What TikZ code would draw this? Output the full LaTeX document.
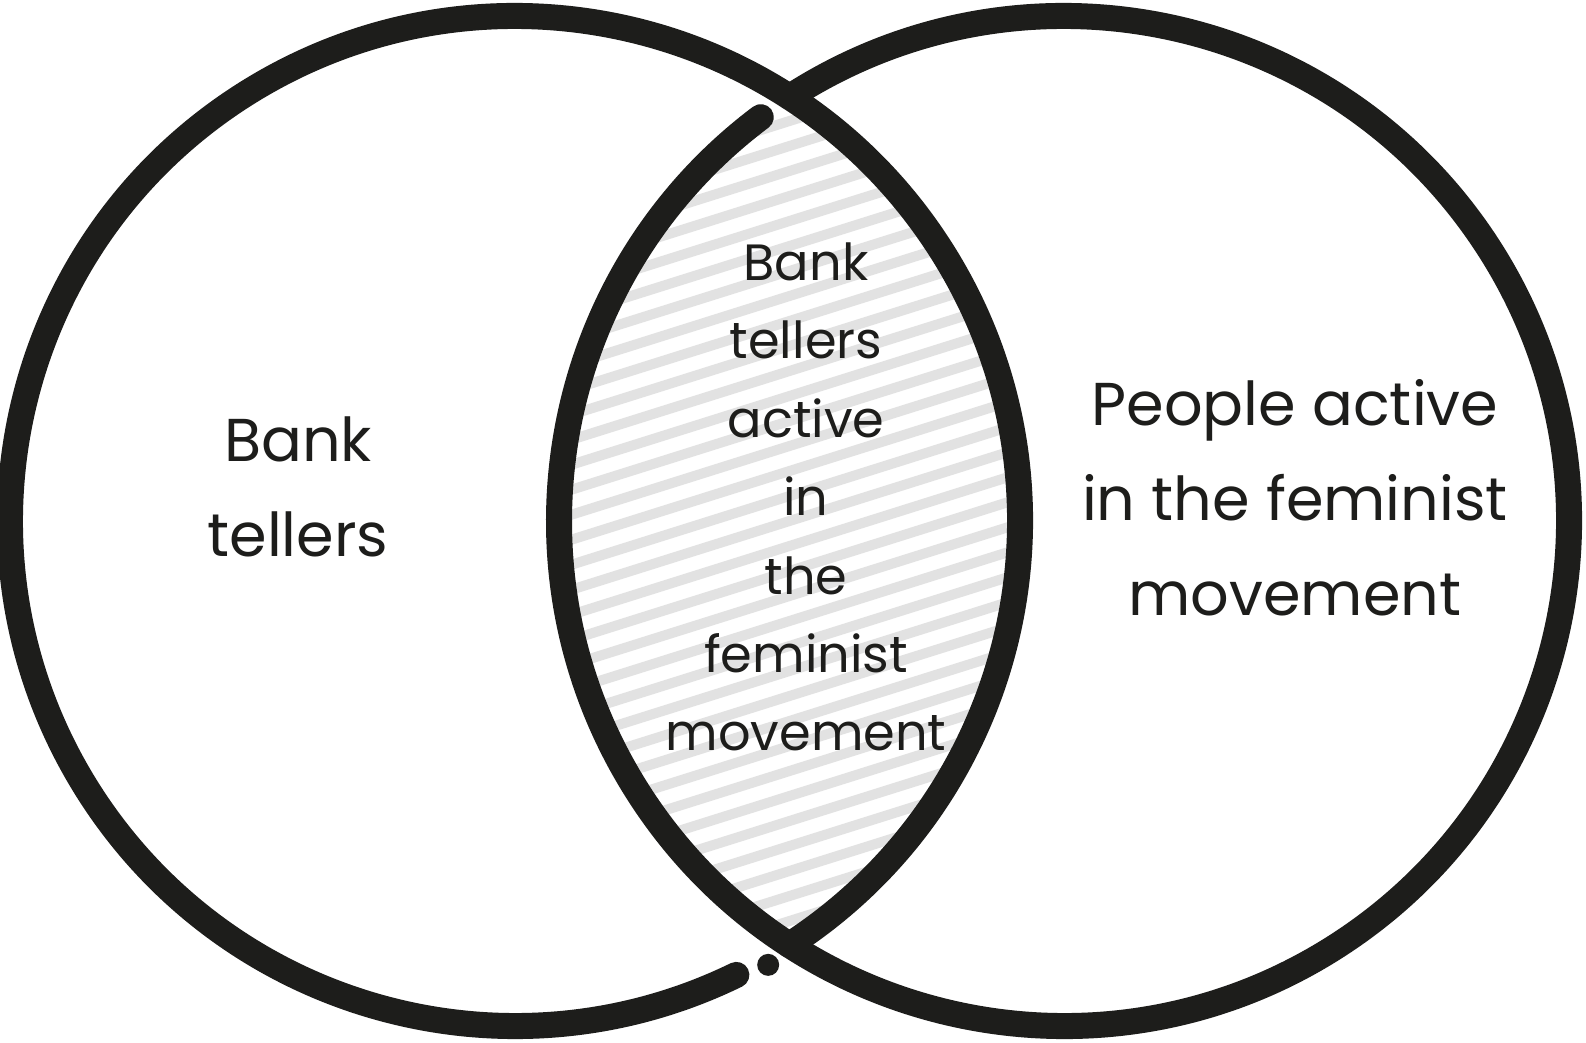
\documentclass[tikz,border=0pt]{standalone}
\usepackage{fontspec}
\setmainfont{Poppins}
\definecolor{ink}{HTML}{1D1D1B}
\definecolor{hatchgray}{HTML}{E2E2E2}
\begin{document}
\begin{tikzpicture}[x=0.01cm,y=0.01cm,
  ring/.style={draw=ink,line width=0.26cm,line cap=round},
  stripe/.style={draw=hatchgray,line width=0.1cm},
  midlabel/.style={text=ink,align=center,font=\fontsize{14.5}{22.3}\selectfont},
  sidelabel/.style={text=ink,align=center,font=\fontsize{17.2}{27}\selectfont}]
\useasboundingbox (0,0) rectangle (1586,1042);
\fill[white] (0,0) rectangle (1586,1042);
\coordinate (L) at (515,521);
\coordinate (R) at (1064,521);
% hatching of the overlap
\begin{scope}
  \clip (L) circle (505);
  \clip (R) circle (505);
  \foreach \k in {-22,...,22} {
    \draw[stripe] (389.5,{395+\k*25}) -- ++(800,252);
  }
\end{scope}
% left circle (with gap at the bottom) and its dot
\draw[ring] ([shift={(-57.1:505)}]L) arc[start angle=-57.1, end angle=296, radius=505];
\fill[ink] ([shift={(-60.3:511)}]L) circle (11);
% right circle (with gap at the top)
\draw[ring] ([shift={(122.9:505)}]R) arc[start angle=122.9, end angle=-233.1, radius=505];
% labels
\node[sidelabel] (left) at (298,555) {Bank\\tellers};
\node[midlabel] (mid) at (806,545) {Bank\\tellers\\active\\in\\the\\feminist\\movement};
\node[sidelabel] (right) at (1295,544) {People active\\in the feminist\\movement};
\end{tikzpicture}
\end{document}
